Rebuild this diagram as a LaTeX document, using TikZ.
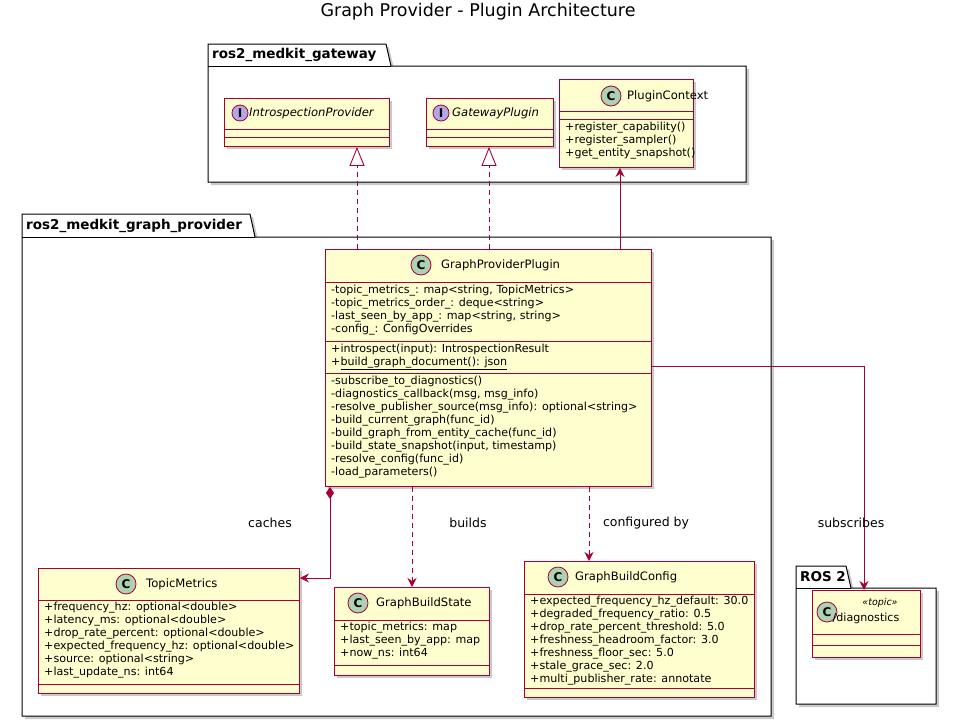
\documentclass[tikz,border=0pt]{standalone}
\usepackage{fontspec}
\setmainfont{DejaVu Sans}
\usetikzlibrary{arrows.meta,shadows,calc}

\definecolor{umlfill}{HTML}{FEFECE}
\definecolor{umlline}{HTML}{A80036}
\definecolor{umlclass}{HTML}{ADD1B2}
\definecolor{umliface}{HTML}{B4A7E5}

\tikzset{
  umlbox/.style={draw=umlline,fill=umlfill,line width=0.9pt,anchor=north west,inner sep=0pt,
    drop shadow={shadow xshift=3pt,shadow yshift=-3pt,fill=black!35,opacity=0.6}},
  members/.style={anchor=north west,inner sep=0pt,align=left,font=\fontsize{11.1}{13}\selectfont},
  classname/.style={anchor=west,inner sep=0pt,font=\fontsize{11.6}{13}\selectfont},
  pkg/.style={draw=black,fill=white,line width=1pt,
    drop shadow={shadow xshift=3pt,shadow yshift=-3pt,fill=black!35,opacity=0.6}},
  pkgname/.style={anchor=west,inner sep=0pt,font=\bfseries\fontsize{13.5}{15}\selectfont},
  edgelabel/.style={inner sep=0pt,font=\fontsize{12.5}{14}\selectfont},
  rel/.style={draw=umlline,line width=0.9pt},
  reldash/.style={rel,dash pattern=on 5pt off 4pt},
}

% class box: name, x1, y1, x2, y2
\newcommand{\umlclassbox}[5]{%
  \node[umlbox,minimum width=#4-#2,minimum height=#5-#3] (#1) at (#2,#3) {};}
% separator line in box: name, y
\newcommand{\umlsep}[2]{%
  \draw[umlline,line width=0.9pt] (#1.west |- 0,#2) -- (#1.east |- 0,#2);}
% header icon: x, y, colour, letter, radius
\newcommand{\umlicon}[5]{%
  \draw[umlline,fill=#3,line width=0.8pt] (#1,#2) circle (#5pt);
  \node[inner sep=0pt,font=\bfseries\fontsize{12}{12}\selectfont] at (#1,#2) {#4};}
% package: x1, y tab top, x tab end, y body top, x2, y2, label
\newcommand{\umlpackage}[7]{%
  \path[pkg] (#1,#2) -- (#3,#2) -- (#3+5,#4) -- (#5,#4) -- (#5,#6) -- (#1,#6) -- cycle;
  \draw[line width=1pt] (#1,#4) -- (#3+5,#4);
  \node[pkgname] at (#1+4,#2/2+#4/2) {#7};}

\begin{document}
\begin{tikzpicture}[x=1pt,y=-1pt]
\useasboundingbox (0,0) rectangle (956,726);

\node[inner sep=0pt,font=\fontsize{17.5}{20}\selectfont] (title) at (478,12) {Graph Provider - Plugin Architecture};

% Packages
\umlpackage{208}{44}{386}{66}{746}{182}{ros2\_medkit\_gateway}
\umlpackage{22}{214}{250}{237}{771}{716}{ros2\_medkit\_graph\_provider}
\umlpackage{796}{566}{846}{588}{936}{704}{ROS 2}

% ros2_medkit_gateway
\umlclassbox{introprov}{224}{98}{389}{146}
\umlsep{introprov}{129} \umlsep{introprov}{137}
\umlicon{240}{113}{umliface}{I}{8}
\node[classname,font=\itshape\fontsize{11.6}{13}\selectfont] (introprovname) at (249,113) {IntrospectionProvider};

\umlclassbox{gwplugin}{426}{98}{553}{146}
\umlsep{gwplugin}{129} \umlsep{gwplugin}{137}
\umlicon{441}{113}{umliface}{I}{8}
\node[classname,font=\itshape\fontsize{11.6}{13}\selectfont] (gwpluginname) at (452,113) {GatewayPlugin};

\umlclassbox{plugctx}{559}{79}{693}{167}
\umlsep{plugctx}{111} \umlsep{plugctx}{119}
\umlicon{611}{96}{umlclass}{C}{10}
\node[classname] (plugctxname) at (627,96) {PluginContext};
\node[members] (plugctxops) at (565,122) {+register\_capability()\\+register\_sampler()\\+get\_entity\_snapshot()};

% ros2_medkit_graph_provider
\umlclassbox{gpp}{325}{249}{651}{486}
\umlsep{gpp}{282} \umlsep{gpp}{341} \umlsep{gpp}{373}
\umlicon{421}{265}{umlclass}{C}{10}
\node[classname] (gppname) at (441,265) {GraphProviderPlugin};
\node[members] (gppattrs) at (331,285) {-topic\_metrics\_: map<string, TopicMetrics>\\-topic\_metrics\_order\_: deque<string>\\-last\_seen\_by\_app\_: map<string, string>\\-config\_: ConfigOverrides};
\node[members] (gppops) at (331,344) {+introspect(input): IntrospectionResult\\+\underline{build\_graph\_document(): json}};
\node[members] (gppprivate) at (331,376) {-subscribe\_to\_diagnostics()\\-diagnostics\_callback(msg, msg\_info)\\-resolve\_publisher\_source(msg\_info): optional<string>\\-build\_current\_graph(func\_id)\\-build\_graph\_from\_entity\_cache(func\_id)\\-build\_state\_snapshot(input, timestamp)\\-resolve\_config(func\_id)\\-load\_parameters()};

\umlclassbox{topicmet}{38}{568}{299}{693}
\umlsep{topicmet}{600} \umlsep{topicmet}{684}
\umlicon{126}{584}{umlclass}{C}{10}
\node[classname] (topicmetname) at (146,584) {TopicMetrics};
\node[members] (topicmetattrs) at (44,602) {+frequency\_hz: optional<double>\\+latency\_ms: optional<double>\\+drop\_rate\_percent: optional<double>\\+expected\_frequency\_hz: optional<double>\\+source: optional<string>\\+last\_update\_ns: int64};

\umlclassbox{gbstate}{334}{587}{489}{675}
\umlsep{gbstate}{620} \umlsep{gbstate}{665}
\umlicon{358}{603}{umlclass}{C}{10}
\node[classname] (gbstatename) at (376,603) {GraphBuildState};
\node[members] (gbstateattrs) at (340,622) {+topic\_metrics: map\\+last\_seen\_by\_app: map\\+now\_ns: int64};

\umlclassbox{gbconfig}{524}{561}{754}{697}
\umlsep{gbconfig}{594} \umlsep{gbconfig}{688}
\umlicon{558}{577}{umlclass}{C}{10}
\node[classname] (gbconfigname) at (575,577) {GraphBuildConfig};
\node[members] (gbconfigattrs) at (530,596) {+expected\_frequency\_hz\_default: 30.0\\+degraded\_frequency\_ratio: 0.5\\+drop\_rate\_percent\_threshold: 5.0\\+freshness\_headroom\_factor: 3.0\\+freshness\_floor\_sec: 5.0\\+stale\_grace\_sec: 2.0\\+multi\_publisher\_rate: annotate};

% ROS 2
\umlclassbox{diag}{812}{590}{920}{657}
\umlsep{diag}{634} \umlsep{diag}{645}
\umlicon{827}{612}{umlclass}{C}{10}
\node[inner sep=0pt,font=\itshape\fontsize{9.5}{11}\selectfont] (diagstereo) at (880,603) {«topic»};
\node[inner sep=0pt,font=\fontsize{11.1}{13}\selectfont] (diagname) at (866,618) {/diagnostics};

% Relations
\draw[reldash,-{Triangle[open,length=19pt,width=15pt]}] (gpp.north -| 357,0) -- (introprov.south -| 357,0);
\draw[reldash,-{Triangle[open,length=19pt,width=15pt]}] (gpp.north -| 489,0) -- (gwplugin.south -| 489,0);
\draw[rel,-{Stealth[length=9pt,width=9pt,inset=3pt]}] (gpp.north -| 620,0) -- (plugctx.south -| 620,0);
\draw[rel,{Diamond[length=12pt,width=8pt]}-{Stealth[length=9pt,width=9pt,inset=3pt]}] (gpp.south -| 330,0) |- (topicmet.east |- 0,578);
\draw[reldash,-{Stealth[length=9pt,width=9pt,inset=3pt]}] (gpp.south -| 412,0) -- (gbstate.north -| 412,0);
\draw[reldash,-{Stealth[length=9pt,width=9pt,inset=3pt]}] (gpp.south -| 589,0) -- (gbconfig.north -| 589,0);
\draw[rel,-{Stealth[length=9pt,width=9pt,inset=3pt]}] (gpp.east |- 0,366) -| (diag.north -| 864,0);

\node[edgelabel] (cacheslbl) at (270,523) {caches};
\node[edgelabel] (buildslbl) at (468,523) {builds};
\node[edgelabel] (configlbl) at (646,523) {configured by};
\node[edgelabel] (subslbl) at (851,523) {subscribes};
\end{tikzpicture}
\end{document}
